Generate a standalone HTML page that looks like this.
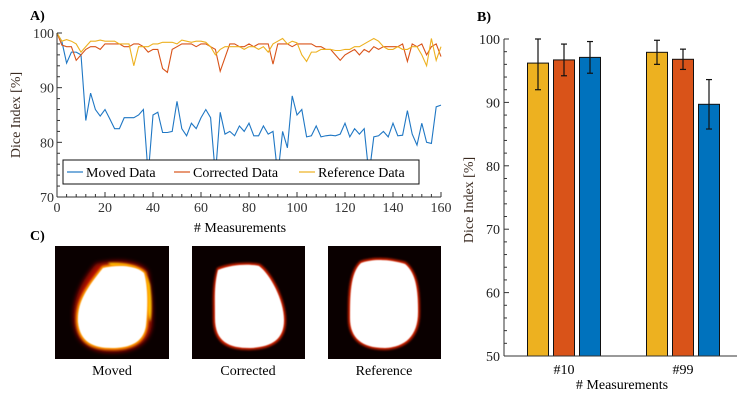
<!DOCTYPE html>
<html><head><meta charset="utf-8"><style>
html,body{margin:0;padding:0;background:#fff;}
svg{display:block;font-family:"Liberation Serif",serif;}
</style></head><body>
<svg id="fig" width="742" height="404" viewBox="0 0 742 404" xmlns="http://www.w3.org/2000/svg">
<defs>
<filter id="blur1" x="-20%" y="-20%" width="140%" height="140%"><feGaussianBlur stdDeviation="1"/></filter>
<filter id="blurs" x="-20%" y="-20%" width="140%" height="140%"><feGaussianBlur stdDeviation="0.5"/></filter>
<filter id="blur3" x="-20%" y="-20%" width="140%" height="140%"><feGaussianBlur stdDeviation="2.5"/></filter>
</defs>
<g id="panelA"></g>
<g id="panelB"></g>
<g id="panelC">
  <text x="30" y="240" font-size="14" font-weight="bold">C)</text>
  <rect x="55" y="246" width="114" height="113" fill="#0a0000"/>
  <path d="M96,264 C82,280 72,300 74,322 C76,344 92,352 112,352 C136,352 152,342 152,320 C153,300 150,285 148,272 C142,262 120,258 96,264 Z" fill="#b01000" filter="url(#blur3)"/>
  <path d="M108,263 C130,262 146,268 150,285 C152,300 152,315 150,322 L144,300 Z" fill="#ffd800" filter="url(#blur1)"/>
  <path d="M102,266 C120,262 138,264 146,272 C151,290 149,315 148,325 C146,343 133,350 112,350 C92,350 78,344 76,322 C75,302 84,288 102,266 Z" fill="#ff9a00" filter="url(#blur1)"/>
  <path d="M103,268 C120,264 137,266 144,273 C149,290 147,315 146,325 C144,341 132,348 112,348 C93,348 80,342 78,322 C77,303 86,289 103,268 Z" fill="#fff" filter="url(#blurs)"/>
  <rect x="192" y="246" width="113" height="113" fill="#0a0000"/>
  <path d="M217,268 C232,262 250,262 260,264 C272,272 286,300 286,320 C286,342 272,349 250,350 C228,350 213,344 213,318 C213,298 212,285 217,268 Z" fill="#d02000" filter="url(#blur1)"/>
  <path d="M218,270 C233,264 250,264 259,266 C270,274 284,300 284,320 C284,340 271,347 250,348 C229,348 215,342 215,318 C215,298 214,286 218,270 Z" fill="#fff" filter="url(#blurs)"/>
  <rect x="328" y="246" width="113" height="113" fill="#0a0000"/>
  <path d="M360,261 C375,256 392,258 406,262 C418,272 420,290 420,312 C420,338 406,349 385,350 C362,350 348,340 348,318 C348,296 348,272 360,261 Z" fill="#d02000" filter="url(#blur1)"/>
  <path d="M361,263 C375,258 392,260 405,264 C416,273 418,290 418,312 C418,336 405,347 385,348 C363,348 350,339 350,318 C350,297 350,273 361,263 Z" fill="#fff" filter="url(#blurs)"/>
  <text x="112" y="375" font-size="14" text-anchor="middle">Moved</text>
  <text x="248" y="375" font-size="14" text-anchor="middle">Corrected</text>
  <text x="384" y="375" font-size="14" text-anchor="middle">Reference</text>
</g>
</svg>
<script>
const NS="http://www.w3.org/2000/svg";
// ---- Panel A data ----
const movedData=[100,98.5,94.5,96.5,96.5,96,84,89,86,84.8,86,84.3,82.5,82.5,84.5,84.5,84.5,85,86,74,85,85.5,81.8,81.8,82,87.5,82.5,81.2,83.5,82.5,84.5,86,84.5,74,85.5,81.5,82,81.2,83,82,83.5,81.2,81.2,83,81.5,82,74,82,79,88.5,85,86,81,81.2,83,81,81.2,81.3,81.2,81.5,83.5,81,82.5,81.5,82.5,74,81,81.2,82,81,83.5,81.2,81.3,85.8,81.5,79.5,83.5,80,79.8,86.5,86.8];
const correctedData=[100,97.8,97.5,97.5,95,96,97,97.5,97.5,97,98,98,98,98,97.5,97.5,98,98,97.5,96.5,97,97,93.5,92.8,97,97.5,98,98,98,97.5,98,98,97.5,97,93,95.5,98,98,97.5,97.5,98,97.5,98,98,98,94.3,98,98,98,97.5,98,98,98,98,97.5,97.5,97,97,96,95,96,96.5,97,96,97,96.5,97.5,97,97.5,97.5,97.5,97.5,98,94.8,98,97.5,98,96,97.5,98,95.7];
const referenceData=[100,98.5,98.8,98.5,98,96.5,97.5,98.5,98.5,98.7,98.5,98.5,98.5,98,98,98,94,97.5,97.5,97.5,98,98,98.3,98.3,98.3,98,98.7,98.5,98.3,98.5,98.5,98.3,97.5,96,97,97.5,97.5,97.5,97.5,97,97.5,97.5,97,97.5,96.5,98,98.5,99,98,98.5,98.2,96,94.8,96.5,96.5,97,97,97,96.8,96.8,97,97,97.5,97.5,98,98.5,99,98.5,97.5,97,97,97.5,97,97,97.5,97.5,96,94,99,95,97.5];
const xTicksA=[0,20,40,60,80,100,120,140,160];
const yTicksA=[70,80,90,100];
// ---- Panel B data ----
const groupsB=["#10","#99"];
const refMeans=[96.2,97.9];
const refErr=[4.2,1.9];
const corMeans=[96.7,96.8];
const corErr=[2.5,1.6];
const movMeans=[97.1,89.7];
const movErr=[2.5,3.9];
const yTicksB=[50,60,70,80,90,100];

function el(tag,attrs,parent,txt){const e=document.createElementNS(NS,tag);for(const k in attrs)e.setAttribute(k,attrs[k]);if(txt!==undefined)e.textContent=txt;parent.appendChild(e);return e;}

// Panel A
const A=document.getElementById('panelA');
const ax0=57,ax1=441,ay0=197,ay1=33;
const xA=v=>ax0+(v-0)/160*(ax1-ax0);
const yA=v=>ay0-(v-70)/30*(ay0-ay1);
let t=el('text',{x:30,y:20,'font-size':14,'font-weight':'bold'},A,'A)');


const clip=el('clipPath',{id:'clipA'},A);el('rect',{x:ax0,y:ay1-3,width:ax1-ax0+2,height:ay0-ay1+3},clip);
function drawLine(arr,color,name){
  const n=arr.length;let d='';
  arr.forEach((v,i)=>{d+=(i?'L':'M')+xA(i*160/(n-1)).toFixed(2)+','+yA(v).toFixed(2);});
  const p=el('path',{d:d,fill:'none',stroke:color,'stroke-width':1.1,'clip-path':'url(#clipA)'},A);
  
  
}
drawLine(movedData,'#1f77c4','moved-data-line');
drawLine(correctedData,'#d95319','corrected-data-line');
drawLine(referenceData,'#edb120','reference-data-line');
el('line',{x1:ax0,y1:ay1,x2:ax0,y2:ay0,stroke:'#333','stroke-width':1},A);
el('line',{x1:ax0,y1:ay0,x2:ax1,y2:ay0,stroke:'#333','stroke-width':1},A);
for(let v=0;v<=160;v+=4){const L=(v%20===0)?5:3;el('line',{x1:xA(v),y1:ay0,x2:xA(v),y2:ay0-L,stroke:'#333'},A);}
for(let v=70;v<=100;v+=2){const L=(v%10===0)?5:3;el('line',{x1:ax0,y1:yA(v),x2:ax0+L,y2:yA(v),stroke:'#333'},A);}
xTicksA.forEach(v=>{const e=el('text',{x:xA(v),y:ay0+15,'font-size':14,'text-anchor':'middle',fill:'#333'},A,String(v));

});
yTicksA.forEach(v=>{const e=el('text',{x:ax0-3,y:yA(v)+5,'font-size':14,'text-anchor':'end',fill:'#333'},A,String(v));

});
t=el('text',{x:240,y:232,'font-size':14,'text-anchor':'middle'},A,'# Measurements');


t=el('text',{x:0,y:0,'font-size':14,'text-anchor':'middle',fill:'#3a2a20',transform:'translate(20,115) rotate(-90)'},A,'Dice  Index  [%]');


const lg=el('g',{},A);


el('rect',{x:63,y:160,width:356,height:24,fill:'#fff',stroke:'#111','stroke-width':1},lg);
[['Moved Data','#1f77c4',67],['Corrected Data','#d95319',174],['Reference  Data','#edb120',299]].forEach(([s,c,x])=>{
  const g=el('g',{},lg);
  
  
  el('line',{x1:x,y1:172,x2:x+16,y2:172,stroke:c,'stroke-width':1.2},g);
  el('text',{x:x+19,y:177,'font-size':14},g,s);
});

// Panel B
const B=document.getElementById('panelB');
const bx0=504,bx1=737,by0=356,by1=39;
const yB=v=>by0-(v-50)/50*(by0-by1);
t=el('text',{x:477,y:21,'font-size':14,'font-weight':'bold'},B,'B)');


const centers=[564,683];const barW=21,off=26;
const series=[[refMeans,refErr,'#edb120','reference'],[corMeans,corErr,'#d95319','corrected'],[movMeans,movErr,'#0072bd','moved']];
groupsB.forEach((g,gi)=>{
  series.forEach(([m,e,c,n],si)=>{
    const cx=centers[gi]+(si-1)*off;
    const r=el('rect',{x:cx-barW/2,y:yB(m[gi]),width:barW,height:by0-yB(m[gi]),fill:c,stroke:'#111','stroke-width':1},B);
    
    
    const top=Math.min(m[gi]+e[gi],100);
    const eb=el('g',{stroke:'#111','stroke-width':1.2},B);
    
    
    el('line',{x1:cx,y1:yB(top),x2:cx,y2:yB(m[gi]-e[gi])},eb);
    el('line',{x1:cx-3,y1:yB(top),x2:cx+3,y2:yB(top)},eb);
    el('line',{x1:cx-3,y1:yB(m[gi]-e[gi]),x2:cx+3,y2:yB(m[gi]-e[gi])},eb);
  });
  const tl=el('text',{x:centers[gi],y:by0+18,'font-size':14,'text-anchor':'middle'},B,g);
  
  
});
el('line',{x1:bx0,y1:by1,x2:bx0,y2:by0,stroke:'#333'},B);
el('line',{x1:bx0,y1:by0,x2:bx1,y2:by0,stroke:'#333'},B);
for(let v=50;v<=100;v+=2){const L=(v%10===0)?5:3;el('line',{x1:bx0,y1:yB(v),x2:bx0+L,y2:yB(v),stroke:'#333'},B);}
yTicksB.forEach(v=>{const e=el('text',{x:bx0-4,y:yB(v)+5,'font-size':14,'text-anchor':'end',fill:'#222'},B,String(v));

});
t=el('text',{x:622,y:389,'font-size':14,'text-anchor':'middle'},B,'# Measurements');


t=el('text',{x:0,y:0,'font-size':14,'text-anchor':'middle',fill:'#3a2a20',transform:'translate(473,200) rotate(-90)'},B,'Dice  Index  [%]');


</script>
</body></html>
